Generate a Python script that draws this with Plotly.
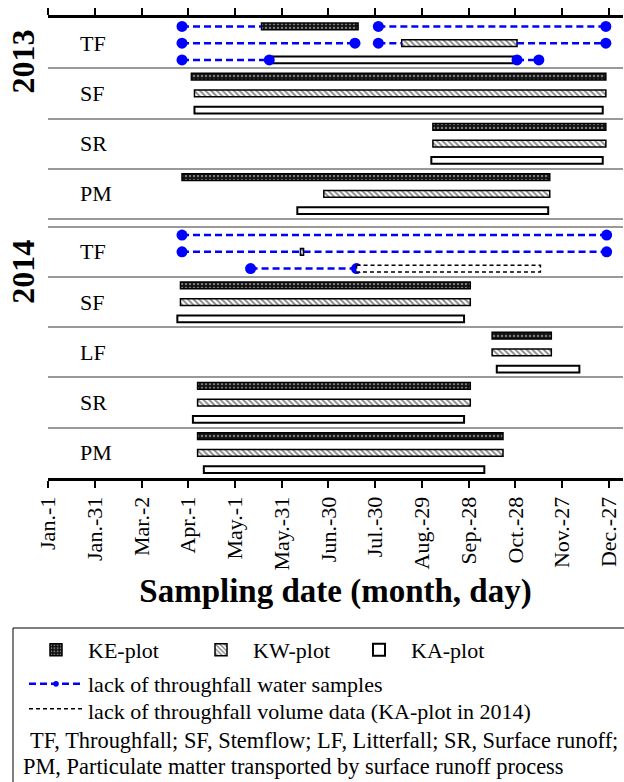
import plotly.graph_objects as go

# ---------------- data ----------------
GROUP_LABELS = ["TF", "SF", "SR", "PM", "TF", "SF", "LF", "SR", "PM"]
YEAR_LABELS = ["2013", "2014"]
PLOT_NAMES = ["KE-plot", "KW-plot", "KA-plot"]

TICK_DAYS = [0, 30, 60, 90, 120, 150, 180, 210, 240, 270, 300, 330, 360]
TICK_LABELS = ["Jan.-1", "Jan.-31", "Mar.-2", "Apr.-1", "May.-1", "May.-31", "Jun.-30",
               "Jul.-30", "Aug.-29", "Sep.-28", "Oct.-28", "Nov.-27", "Dec.-27"]

# sampling periods (day offset from Jan. 1), group index into GROUP_LABELS
KE_GROUP = [0, 1, 2, 3, 5, 6, 7, 8]
KE_START = [137, 92, 247, 86, 85, 285, 96, 96]
KE_END = [199, 358, 358, 322, 271, 323, 271, 292]

KW_GROUP = [0, 1, 2, 3, 4, 5, 6, 7, 8]
KW_START = [227, 94, 247, 177, 162, 85, 285, 96, 96]
KW_END = [301, 358, 358, 322, 164, 271, 323, 271, 292]

KA_GROUP = [0, 1, 2, 3, 5, 6, 7, 8]
KA_START = [144, 94, 246, 160, 83, 288, 93, 100]
KA_END = [299, 356, 356, 321, 267, 341, 267, 280]

# lack of throughfall volume data (KA-plot in 2014)
NOVOL_GROUP = [4]
NOVOL_START = [198]
NOVOL_END = [316]

# lack of throughfall water samples (plot index 0=KE,1=KW,2=KA)
MISS_GROUP = [0, 0, 0, 0, 0, 0, 0, 4, 4, 4, 4]
MISS_PLOT = [0, 0, 1, 1, 1, 2, 2, 0, 1, 1, 2]
MISS_START = [86, 212, 86, 212, 301, 86, 301, 86, 86, 164, 130]
MISS_END = [137, 358, 197, 227, 358, 142, 315, 358.5, 162, 358.5, 198]
MISS_DOT_START = [1, 1, 1, 1, 0, 1, 1, 1, 1, 0, 1]
MISS_DOT_END = [0, 1, 1, 0, 1, 1, 1, 1, 0, 1, 1]

# ---------------- geometry helpers ----------------
GAP = 0.46
BAR_W = 0.4
FONT = "Liberation Serif"


def group_top(g):
    return 3 * g + (GAP if g >= 4 else 0)


def row_y(g, p):
    return group_top(g) + p + 0.5


Y_MAX = group_top(len(GROUP_LABELS) - 1) + 3
SEPARATORS = [group_top(g) for g in range(1, len(GROUP_LABELS))] + [12]

PLOT_L, PLOT_W, PLOT_T, PLOT_H = 48, 575, 18, 460


def px(x):
    return (x - PLOT_L) / PLOT_W


def py(y):
    return (PLOT_T + PLOT_H - y) / PLOT_H


fig = go.Figure()


def bar_trace(name, groups, starts, ends, p, marker, legend):
    return go.Bar(
        orientation="h", name=name, legend=legend,
        y=[row_y(g, p) for g in groups], base=starts,
        x=[e - s for s, e in zip(starts, ends)],
        width=BAR_W, marker=marker, showlegend=True,
    )


fig.add_trace(bar_trace(PLOT_NAMES[0], KE_GROUP, KE_START, KE_END, 0, dict(
    color="#111111", line=dict(color="black", width=1.5),
    pattern=dict(shape=".", fgcolor="#dddddd", bgcolor="#111111", size=4, solidity=0.3)), "legend"))
fig.add_trace(bar_trace(PLOT_NAMES[1], KW_GROUP, KW_START, KW_END, 1, dict(
    color="white", line=dict(color="black", width=1.5),
    pattern=dict(shape="\\", fgcolor="black", bgcolor="white", size=4, solidity=0.45)), "legend2"))
fig.add_trace(bar_trace(PLOT_NAMES[2], KA_GROUP, KA_START, KA_END, 2, dict(
    color="white", line=dict(color="black", width=2)), "legend3"))

# missing water samples
mx, my, ms = [], [], []
for g, p, s, e, ds, de in zip(MISS_GROUP, MISS_PLOT, MISS_START, MISS_END, MISS_DOT_START, MISS_DOT_END):
    y = row_y(g, p)
    mx += [s, e, None]
    my += [y, y, None]
    ms += [11 if ds else 0, 11 if de else 0, 0]
fig.add_trace(go.Scatter(
    x=mx, y=my, mode="lines+markers", name="lack of throughfall water samples",
    line=dict(color="#0000ff", width=2.5, dash="7px,4px"),
    marker=dict(color="#0000ff", size=ms, opacity=1, line=dict(width=0)),
    legend="legend4", showlegend=True,
))

# lack of volume data (dashed outline)
for g, s, e in zip(NOVOL_GROUP, NOVOL_START, NOVOL_END):
    y = row_y(g, 2)
    h = BAR_W / 2
    fig.add_trace(go.Scatter(
        x=[s, e, e, s, s], y=[y - h, y - h, y + h, y + h, y - h],
        mode="lines", fill="toself", fillcolor="white",
        line=dict(color="black", width=1.5, dash="4px,3px"),
        name="lack of throughfall volume data (KA-plot in 2014)",
        legend="legend5", showlegend=True,
    ))

annotations = []
for g, lab in enumerate(GROUP_LABELS):
    annotations.append(dict(x=19, y=group_top(g) + 1.5, xref="x", yref="y", text=lab,
                            showarrow=False, xanchor="left", yanchor="middle",
                            font=dict(family=FONT, size=22, color="black")))
for lab, yc in zip(YEAR_LABELS, [2.6, 15.15]):
    annotations.append(dict(x=px(23), y=yc, xref="paper", yref="y", text="<b>%s</b>" % lab,
                            showarrow=False, textangle=-90, xanchor="center", yanchor="middle",
                            font=dict(family=FONT, size=32, color="black")))
annotations.append(dict(x=px(28), y=py(740), xref="paper", yref="paper",
                        text="TF, Throughfall; SF, Stemflow; LF, Litterfall; SR, Surface runoff;",
                        showarrow=False, xanchor="left", yanchor="middle",
                        font=dict(family=FONT, size=22.4, color="black")))
annotations.append(dict(x=px(21), y=py(766), xref="paper", yref="paper",
                        text="PM, Particulate matter transported by surface runoff process",
                        showarrow=False, xanchor="left", yanchor="middle",
                        font=dict(family=FONT, size=22.4, color="black")))

leg_common = dict(xanchor="left", yanchor="middle", bgcolor="rgba(0,0,0,0)", borderwidth=0,
                  itemwidth=54, font=dict(family=FONT, size=22, color="black"))

fig.update_layout(
    width=624, height=782, autosize=False,
    margin=dict(l=PLOT_L, r=624 - PLOT_L - PLOT_W, t=PLOT_T, b=782 - PLOT_T - PLOT_H),
    paper_bgcolor="white", plot_bgcolor="white",
    barmode="overlay",
    font=dict(family=FONT, color="black"),
    xaxis=dict(range=[0, 369], tickvals=TICK_DAYS, ticktext=TICK_LABELS, tickangle=-90,
               ticks="outside", ticklen=7, tickwidth=2, tickcolor="black",
               showline=True, linewidth=3, linecolor="black", mirror="ticks",
               showgrid=False, zeroline=False,
               tickfont=dict(family=FONT, size=22, color="black"),
               title=dict(text="<b>Sampling date (month, day)</b>", standoff=10,
                          font=dict(family=FONT, size=33, color="black"))),
    yaxis=dict(range=[Y_MAX, 0], tickvals=SEPARATORS, showticklabels=False, ticks="",
               showgrid=True, gridcolor="#999999", gridwidth=2, zeroline=False, showline=False),
    annotations=annotations,
    shapes=[dict(type="rect", xref="paper", yref="paper", x0=px(13), x1=px(640),
                 y0=py(628), y1=py(800), line=dict(color="black", width=1), layer="above")],
    legend=dict(x=px(24), y=py(650), **leg_common),
    legend2=dict(x=px(189), y=py(650), **leg_common),
    legend3=dict(x=px(347), y=py(650), **leg_common),
    legend4=dict(x=px(24), y=py(684), **leg_common),
    legend5=dict(x=px(24), y=py(711), **leg_common),
)

fig.write_html("out.html", config={"displayModeBar": False},
               post_script="document.body.style.margin='0';")
